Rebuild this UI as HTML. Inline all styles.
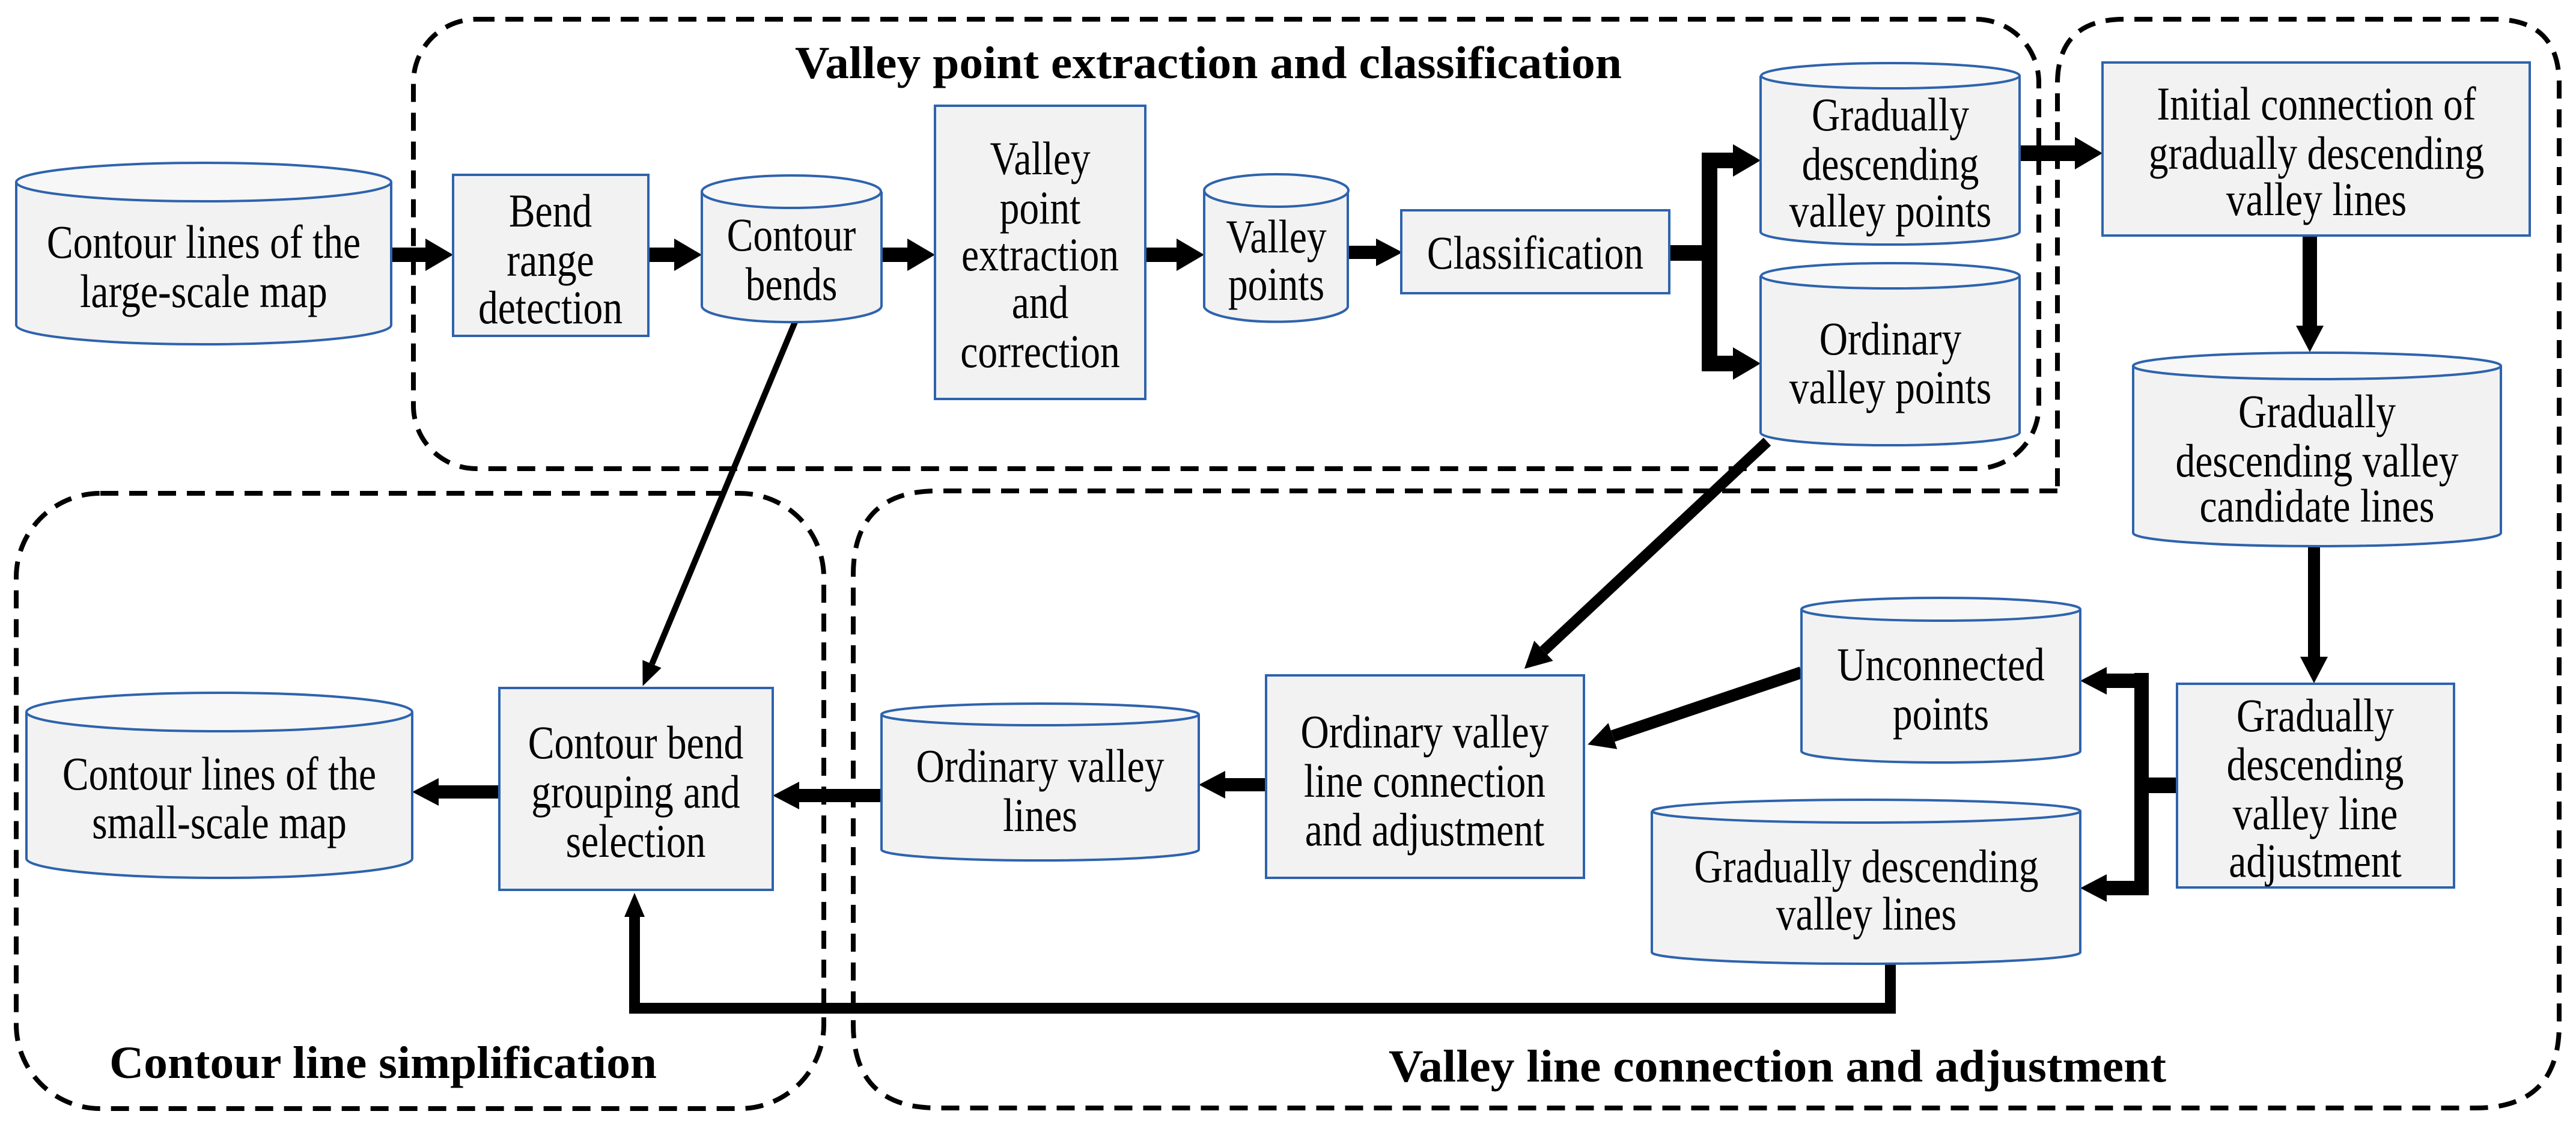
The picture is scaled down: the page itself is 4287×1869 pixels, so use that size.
<!DOCTYPE html>
<html><head><meta charset="utf-8"><style>
html,body{margin:0;padding:0;background:#fff;}
svg{display:block;}
svg text{font-family:"Liberation Serif","Times New Roman",serif;}
.t text{font-size:78px;fill:#000;text-anchor:middle;dominant-baseline:central;}
.b{font-size:76px;font-weight:bold;fill:#000;}
.cb{fill:#f2f2f2;stroke:#2e63ad;stroke-width:4;}
.ct{fill:#f7f7f7;stroke:#2e63ad;stroke-width:4;}
.d{fill:none;stroke:#000;stroke-width:8;stroke-dasharray:30 18;}
.a{stroke:#000;fill:none;}
</style></head><body>
<svg width="4287" height="1869" viewBox="0 0 4287 1869" xmlns="http://www.w3.org/2000/svg">
<defs>
<marker id="h" markerUnits="userSpaceOnUse" markerWidth="46" markerHeight="54" refX="0" refY="27" orient="auto"><path d="M0,0 L46,27 L0,54 Z" fill="#000"/></marker>
<marker id="s" markerUnits="userSpaceOnUse" markerWidth="44" markerHeight="46" refX="0" refY="23" orient="auto"><path d="M0,0 L44,23 L0,46 Z" fill="#000"/></marker>
<marker id="n" markerUnits="userSpaceOnUse" markerWidth="40" markerHeight="34" refX="0" refY="17" orient="auto"><path d="M0,0 L40,17 L0,34 Z" fill="#000"/></marker>
</defs>

<rect class="d" x="688" y="32" width="2705" height="748" rx="105" ry="105"/>
<rect class="d" x="27" y="821" width="1344" height="1024" rx="140" ry="140"/>
<path class="d" d="M3424,817 L1560,817 Q1420,817 1420,957 L1420,1705 Q1420,1844 1560,1844 L4120,1844 Q4259,1844 4259,1705 L4259,140 Q4259,32 4150,32 L3535,32 Q3424,32 3424,140 Z"/>

<text class="b" x="1323" y="130" textLength="1376" lengthAdjust="spacingAndGlyphs">Valley point extraction and classification</text>
<text class="b" x="182" y="1794" textLength="911" lengthAdjust="spacingAndGlyphs">Contour line simplification</text>
<text class="b" x="2311" y="1800" textLength="1294" lengthAdjust="spacingAndGlyphs">Valley line connection and adjustment</text>

<g class="a">
<line x1="651" y1="424" x2="708" y2="424" stroke-width="24" marker-end="url(#h)"/>
<line x1="1079" y1="424" x2="1122" y2="424" stroke-width="24" marker-end="url(#h)"/>
<line x1="1467" y1="424" x2="1510" y2="424" stroke-width="24" marker-end="url(#h)"/>
<line x1="1906" y1="424" x2="1958" y2="424" stroke-width="24" marker-end="url(#h)"/>
<line x1="2243" y1="420" x2="2290" y2="420" stroke-width="22" marker-end="url(#s)"/>
<line x1="2778" y1="421" x2="2858" y2="421" stroke-width="26"/>
<line x1="2845" y1="254" x2="2845" y2="617" stroke-width="26"/>
<line x1="2832" y1="267" x2="2884" y2="267" stroke-width="26" marker-end="url(#h)"/>
<line x1="2832" y1="605" x2="2884" y2="605" stroke-width="26" marker-end="url(#h)"/>
<line x1="3361" y1="255" x2="3453" y2="255" stroke-width="26" marker-end="url(#h)"/>
<line x1="3844" y1="392" x2="3844" y2="542" stroke-width="24" marker-end="url(#s)"/>
<line x1="3851" y1="909" x2="3851" y2="1093" stroke-width="20" marker-end="url(#s)"/>
<line x1="3623" y1="1307" x2="3552" y2="1307" stroke-width="26"/>
<line x1="3564" y1="1120" x2="3564" y2="1490" stroke-width="24"/>
<line x1="3576" y1="1133" x2="3506" y2="1133" stroke-width="24" marker-end="url(#s)"/>
<line x1="3576" y1="1478" x2="3506" y2="1478" stroke-width="24" marker-end="url(#s)"/>
<line x1="2998" y1="1119" x2="2684" y2="1225" stroke-width="20" marker-end="url(#s)"/>
<line x1="2941" y1="735" x2="2569" y2="1083" stroke-width="18" marker-end="url(#s)"/>
<line x1="1323" y1="536" x2="1085" y2="1105" stroke-width="10" marker-end="url(#n)"/>
<line x1="2107" y1="1306" x2="2039" y2="1306" stroke-width="22" marker-end="url(#s)"/>
<line x1="1467" y1="1324" x2="1330" y2="1324" stroke-width="22" marker-end="url(#s)"/>
<line x1="831" y1="1318" x2="730" y2="1318" stroke-width="22" marker-end="url(#s)"/>
<polyline points="3146,1604 3146,1678 1056,1678 1056,1528" stroke-width="18"/>
<line x1="1056" y1="1530" x2="1056" y2="1526" stroke-width="18" marker-end="url(#n)"/>
</g>

<g>
<path class="cb" d="M27,303 L27,541 A312,32 0 0 0 651,541 L651,303"/><ellipse class="ct" cx="339" cy="303" rx="312" ry="32"/>
<path class="cb" d="M1168,319 L1168,509 A149,27 0 0 0 1467,509 L1467,319"/><ellipse class="ct" cx="1317" cy="319" rx="149" ry="27"/>
<path class="cb" d="M2004,317 L2004,511 A120,27 0 0 0 2243,511 L2243,317"/><ellipse class="ct" cx="2124" cy="317" rx="120" ry="27"/>
<path class="cb" d="M2930,126 L2930,386 A215,21 0 0 0 3361,386 L3361,126"/><ellipse class="ct" cx="3146" cy="126" rx="215" ry="21"/>
<path class="cb" d="M2930,459 L2930,720 A215,21 0 0 0 3361,720 L3361,459"/><ellipse class="ct" cx="3146" cy="459" rx="215" ry="21"/>
<path class="cb" d="M3550,609 L3550,887 A306,22 0 0 0 4162,887 L4162,609"/><ellipse class="ct" cx="3856" cy="609" rx="306" ry="22"/>
<path class="cb" d="M2998,1014 L2998,1250 A232,19 0 0 0 3462,1250 L3462,1014"/><ellipse class="ct" cx="3230" cy="1014" rx="232" ry="19"/>
<path class="cb" d="M2749,1350 L2749,1585 A356,19 0 0 0 3462,1585 L3462,1350"/><ellipse class="ct" cx="3106" cy="1350" rx="356" ry="19"/>
<path class="cb" d="M44,1185 L44,1429 A321,32 0 0 0 686,1429 L686,1185"/><ellipse class="ct" cx="365" cy="1185" rx="321" ry="32"/>
<path class="cb" d="M1467,1189 L1467,1414 A264,18 0 0 0 1995,1414 L1995,1189"/><ellipse class="ct" cx="1731" cy="1189" rx="264" ry="18"/>
</g>

<g class="cb">
<rect x="754" y="291" width="325" height="268"/>
<rect x="1556" y="176" width="350" height="488"/>
<rect x="2332" y="350" width="446" height="138"/>
<rect x="3499" y="104" width="711" height="288"/>
<rect x="3623" y="1138" width="461" height="339"/>
<rect x="2107" y="1124" width="529" height="337"/>
<rect x="831" y="1145" width="455" height="336"/>
</g>

<g class="t">
<text transform="translate(339 403) scale(0.84 1)">Contour lines of the</text><text transform="translate(339 485) scale(0.84 1)">large-scale map</text>
<text transform="translate(916 351) scale(0.84 1)">Bend</text><text transform="translate(916 433) scale(0.84 1)">range</text><text transform="translate(916 512) scale(0.84 1)">detection</text>
<text transform="translate(1317 391) scale(0.84 1)">Contour</text><text transform="translate(1317 473) scale(0.84 1)">bends</text>
<text transform="translate(1731 264) scale(0.84 1)">Valley</text><text transform="translate(1731 346) scale(0.84 1)">point</text><text transform="translate(1731 424) scale(0.84 1)">extraction</text><text transform="translate(1731 503) scale(0.84 1)">and</text><text transform="translate(1731 585) scale(0.84 1)">correction</text>
<text transform="translate(2124 394) scale(0.84 1)">Valley</text><text transform="translate(2124 473) scale(0.84 1)">points</text>
<text transform="translate(2555 421) scale(0.84 1)">Classification</text>
<text transform="translate(3146 191) scale(0.84 1)">Gradually</text><text transform="translate(3146 273) scale(0.84 1)">descending</text><text transform="translate(3146 351) scale(0.84 1)">valley points</text>
<text transform="translate(3146 564) scale(0.84 1)">Ordinary</text><text transform="translate(3146 645) scale(0.84 1)">valley points</text>
<text transform="translate(3855 173) scale(0.84 1)">Initial connection of</text><text transform="translate(3855 255) scale(0.84 1)">gradually descending</text><text transform="translate(3855 332) scale(0.84 1)">valley lines</text>
<text transform="translate(3856 685) scale(0.84 1)">Gradually</text><text transform="translate(3856 767) scale(0.84 1)">descending valley</text><text transform="translate(3856 842) scale(0.84 1)">candidate lines</text>
<text transform="translate(3853 1191) scale(0.84 1)">Gradually</text><text transform="translate(3853 1272) scale(0.84 1)">descending</text><text transform="translate(3853 1354) scale(0.84 1)">valley line</text><text transform="translate(3853 1433) scale(0.84 1)">adjustment</text>
<text transform="translate(3230 1106) scale(0.84 1)">Unconnected</text><text transform="translate(3230 1188) scale(0.84 1)">points</text>
<text transform="translate(3106 1442) scale(0.84 1)">Gradually descending</text><text transform="translate(3106 1521) scale(0.84 1)">valley lines</text>
<text transform="translate(2371 1218) scale(0.84 1)">Ordinary valley</text><text transform="translate(2371 1300) scale(0.84 1)">line connection</text><text transform="translate(2371 1381) scale(0.84 1)">and adjustment</text>
<text transform="translate(1058 1236) scale(0.84 1)">Contour bend</text><text transform="translate(1058 1318) scale(0.84 1)">grouping and</text><text transform="translate(1058 1400) scale(0.84 1)">selection</text>
<text transform="translate(365 1288) scale(0.84 1)">Contour lines of the</text><text transform="translate(365 1369) scale(0.84 1)">small-scale map</text>
<text transform="translate(1731 1275) scale(0.84 1)">Ordinary valley</text><text transform="translate(1731 1357) scale(0.84 1)">lines</text>
</g>
</svg>
</body></html>
